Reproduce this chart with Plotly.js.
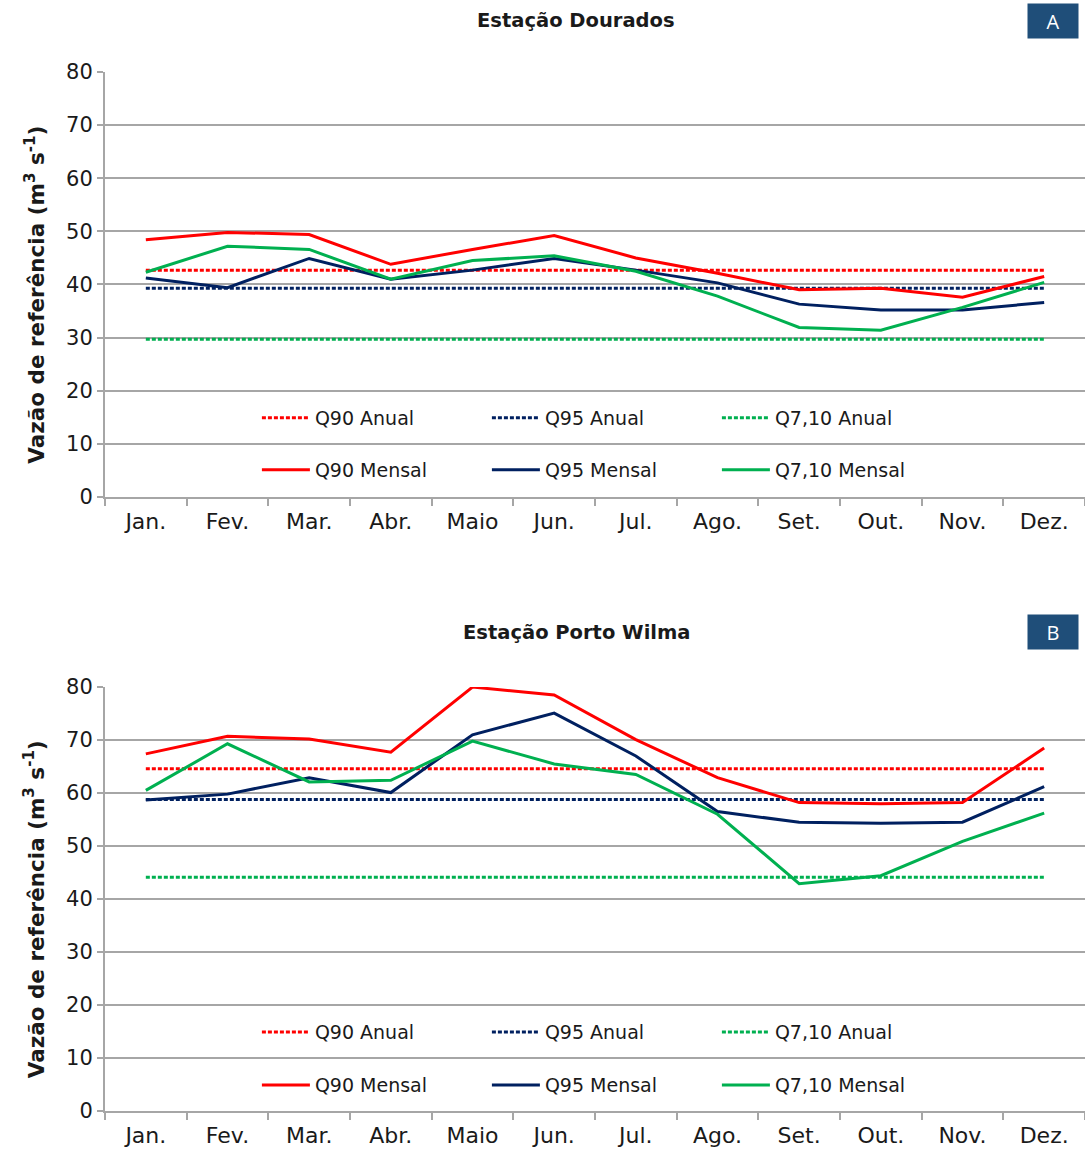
<!DOCTYPE html>
<html><head><meta charset="utf-8">
<script src="https://cdn.plot.ly/plotly-3.0.1.min.js"></script>
<style>html,body{margin:0;padding:0;background:#fff}</style>
</head><body><div id="chart" style="width:1085px;height:1151px"></div>
<script>
const months = ['Jan.','Fev.','Mar.','Abr.','Maio','Jun.','Jul.','Ago.','Set.','Out.','Nov.','Dez.'];

// Estação Dourados
const dourQ90Anual  = [42.7,42.7,42.7,42.7,42.7,42.7,42.7,42.7,42.7,42.7,42.7,42.7];
const dourQ95Anual  = [39.3,39.3,39.3,39.3,39.3,39.3,39.3,39.3,39.3,39.3,39.3,39.3];
const dourQ710Anual = [29.7,29.7,29.7,29.7,29.7,29.7,29.7,29.7,29.7,29.7,29.7,29.7];
const dourQ90Mensal  = [48.4,49.8,49.4,43.8,46.6,49.2,45.0,42.1,39.0,39.3,37.6,41.5];
const dourQ95Mensal  = [41.2,39.4,44.9,41.0,42.7,44.9,42.7,40.3,36.3,35.2,35.2,36.6];
const dourQ710Mensal = [42.3,47.2,46.6,41.0,44.5,45.4,42.5,37.8,31.9,31.4,35.7,40.4];

// Estação Porto Wilma
const pwQ90Anual  = [64.6,64.6,64.6,64.6,64.6,64.6,64.6,64.6,64.6,64.6,64.6,64.6];
const pwQ95Anual  = [58.8,58.8,58.8,58.8,58.8,58.8,58.8,58.8,58.8,58.8,58.8,58.8];
const pwQ710Anual = [44.1,44.1,44.1,44.1,44.1,44.1,44.1,44.1,44.1,44.1,44.1,44.1];
const pwQ90Mensal  = [67.4,70.7,70.2,67.7,80.0,78.5,70.1,62.9,58.2,58.0,58.2,68.5];
const pwQ95Mensal  = [58.7,59.8,62.9,60.1,71.0,75.1,67.0,56.5,54.5,54.3,54.5,61.2];
const pwQ710Mensal = [60.5,69.3,62.1,62.4,69.8,65.5,63.5,56.0,42.9,44.4,50.9,56.2];

const seriesNames = ['Q90 Anual','Q95 Anual','Q7,10 Anual','Q90 Mensal','Q95 Mensal','Q7,10 Mensal'];
const RED = '#FF0000', NAVY = '#002060', GREEN = '#00B050';
const colors = [RED, NAVY, GREEN, RED, NAVY, GREEN];

function makeTraces(dataSets, xa, ya, legAnual, legMensal) {
  return dataSets.map((vals, i) => ({
    type: 'scatter', mode: 'lines',
    x: months, y: vals, name: seriesNames[i],
    xaxis: xa, yaxis: ya,
    legend: i < 3 ? legAnual : legMensal,
    line: { color: colors[i], width: 3, dash: i < 3 ? '4px,2px' : 'solid' },
    hoverinfo: 'skip'
  }));
}

const traces = [].concat(
  makeTraces([dourQ90Anual, dourQ95Anual, dourQ710Anual, dourQ90Mensal, dourQ95Mensal, dourQ710Mensal], 'x', 'y', 'legend', 'legend2'),
  makeTraces([pwQ90Anual, pwQ95Anual, pwQ710Anual, pwQ90Mensal, pwQ95Mensal, pwQ710Mensal], 'x2', 'y2', 'legend3', 'legend4')
);

const AX = '#A6A6A6';
const FONT = 'DejaVu Sans, Liberation Sans, Arial, sans-serif';
const xTickFont = { family: FONT, size: 22, color: '#1a1a1a' };
const yTickFont = { family: FONT, size: 21, color: '#1a1a1a' };
const yTitle = { text: '<b>Vazão de referência (m<sup>3</sup> s<sup>-1</sup>)</b>&nbsp;&nbsp;&nbsp;', font: { family: FONT, size: 21.5, color: '#1a1a1a' }, standoff: 16 };

function xAxis(anchor) {
  return { anchor: anchor, type: 'category', range: [-0.5, 11.5], tickson: 'boundaries',
    ticks: 'outside', ticklen: 7, tickwidth: 2, tickcolor: AX, showline: true, linecolor: AX, linewidth: 2,
    showgrid: false, tickfont: xTickFont, ticklabelstandoff: 4, fixedrange: true };
}
function yAxis(anchor, domain) {
  return { anchor: anchor, domain: domain, range: [0, 80], dtick: 10, ticks: 'outside', ticklen: 6, tickwidth: 2,
    tickcolor: AX, showline: true, linecolor: AX, linewidth: 2, showgrid: true, gridcolor: AX, gridwidth: 2,
    zeroline: false, tickfont: yTickFont, title: yTitle, fixedrange: true };
}
function leg(x, y) {
  return { orientation: 'h', x: x, y: y, xanchor: 'left', yanchor: 'middle', bgcolor: 'rgba(0,0,0,0)',
    entrywidth: 167, itemwidth: 48, font: { family: FONT, size: 19, color: '#1a1a1a' },
    traceorder: 'normal' };
}

const titleFont = { family: FONT, size: 19.5, color: '#1a1a1a' };
const layout = {
  width: 1085, height: 1151,
  margin: { l: 105, r: 0, t: 72, b: 40 },
  paper_bgcolor: '#fff', plot_bgcolor: '#fff',
  showlegend: true,
  xaxis: xAxis('y'),
  yaxis: yAxis('x', [0.591, 1]),
  xaxis2: xAxis('y2'),
  yaxis2: yAxis('x2', [0, 0.408]),
  legend: leg(0.155, 0.667),
  legend2: leg(0.155, 0.617),
  legend3: leg(0.155, 0.076),
  legend4: leg(0.155, 0.025),
  annotations: [
    { text: '<b>Estação Dourados</b>', xref: 'paper', yref: 'paper', x: 0.4806, y: 1.050, xanchor: 'center', yanchor: 'middle', showarrow: false, font: titleFont },
    { text: '<b>Estação Porto Wilma</b>', xref: 'paper', yref: 'paper', x: 0.4816, y: 0.461, xanchor: 'center', yanchor: 'middle', showarrow: false, font: titleFont },
    { text: 'A', xref: 'paper', yref: 'paper', x: 0.967, y: 1.049, xanchor: 'center', yanchor: 'middle', showarrow: false, bgcolor: '#1F4E79', width: 50, height: 34, borderpad: 0, font: { family: 'Open Sans, sans-serif', size: 20, color: '#fff' } },
    { text: 'B', xref: 'paper', yref: 'paper', x: 0.967, y: 0.461, xanchor: 'center', yanchor: 'middle', showarrow: false, bgcolor: '#1F4E79', width: 50, height: 34, borderpad: 0, font: { family: 'Open Sans, sans-serif', size: 20, color: '#fff' } }
  ]
};

Plotly.newPlot('chart', traces, layout, { staticPlot: true, displayModeBar: false });
</script>
</body></html>
